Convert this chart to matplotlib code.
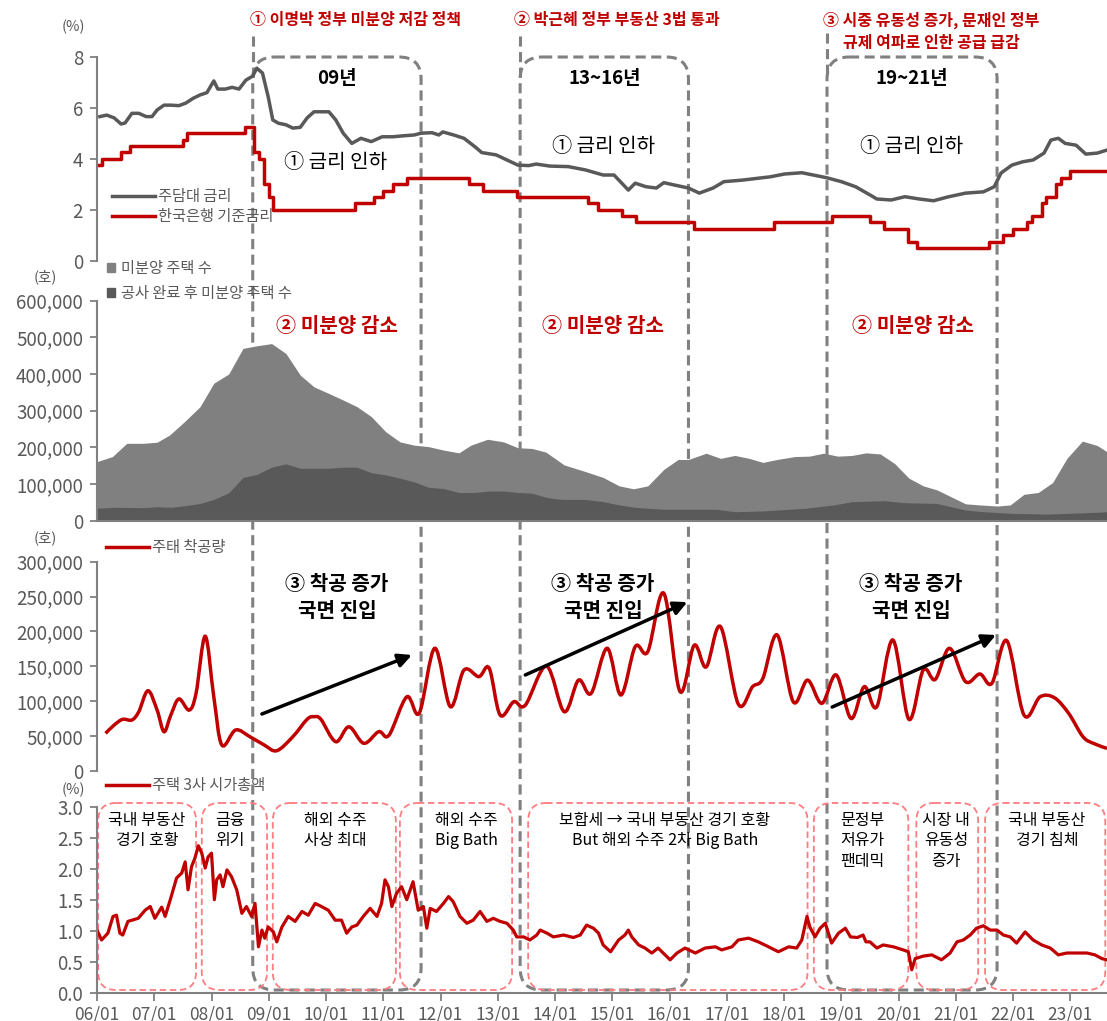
import numpy as np
import matplotlib
matplotlib.use("Agg")
import matplotlib.pyplot as plt
from matplotlib.patches import FancyBboxPatch, PathPatch, Patch
from matplotlib.path import Path
from matplotlib.lines import Line2D

plt.rcParams['font.family'] = ['Noto Sans CJK KR', 'DejaVu Sans']
plt.rcParams['axes.unicode_minus'] = False

RED = '#C00000'
DARK = '#595959'
MID = '#808080'
PINK = '#FF7C80'

# ---------------- data (x = decimal year) ----------------
# 주담대 금리 (%)
mort_t = [2006.05, 2006.17, 2006.30, 2006.42, 2006.49, 2006.61, 2006.73, 2006.86, 2006.96,
          2007.05, 2007.17, 2007.29, 2007.43, 2007.55, 2007.68, 2007.80, 2007.92,
          2008.04, 2008.11, 2008.24, 2008.36, 2008.48, 2008.60, 2008.72, 2008.79, 2008.89, 2008.99,
          2009.07, 2009.17, 2009.30, 2009.42, 2009.55, 2009.67, 2009.79, 2009.91,
          2010.05, 2010.17, 2010.30, 2010.45, 2010.61, 2010.79, 2010.98,
          2011.17, 2011.36, 2011.54, 2011.66, 2011.85, 2011.97,
          2012.04, 2012.23, 2012.41, 2012.60, 2012.72, 2012.97,
          2013.16, 2013.35, 2013.54, 2013.67, 2013.91, 2014.23, 2014.53, 2014.84,
          2015.03, 2015.28, 2015.40, 2015.59, 2015.77, 2015.90,
          2016.08, 2016.33, 2016.52, 2016.76, 2016.95, 2017.27, 2017.57, 2017.76,
          2018.01, 2018.31, 2018.51, 2018.75, 2019.00, 2019.25, 2019.50, 2019.62, 2019.87,
          2020.11, 2020.36, 2020.61, 2020.86, 2021.17, 2021.48, 2021.67, 2021.79, 2021.98,
          2022.17, 2022.35, 2022.54, 2022.66, 2022.79, 2022.91, 2023.10, 2023.27, 2023.47, 2023.64]
mort_v = [5.65, 5.71, 5.6, 5.36, 5.4, 5.78, 5.78, 5.65, 5.65,
          5.91, 6.1, 6.1, 6.08, 6.18, 6.37, 6.5, 6.59,
          7.05, 6.73, 6.73, 6.8, 6.73, 7.08, 7.24, 7.55, 7.36, 6.43,
          5.52, 5.39, 5.33, 5.2, 5.23, 5.6, 5.84, 5.84,
          5.84, 5.52, 5.0, 4.6, 4.8, 4.67, 4.86,
          4.86, 4.9, 4.93, 5.0, 5.02, 4.93,
          5.05, 4.93, 4.8, 4.47, 4.24, 4.15,
          3.95, 3.75, 3.73, 3.79, 3.71, 3.69, 3.56, 3.36,
          3.36, 2.77, 3.04, 2.9, 2.85, 3.06,
          2.97, 2.85, 2.65, 2.85, 3.1, 3.16, 3.24, 3.29,
          3.4, 3.45, 3.36, 3.25, 3.1, 2.9, 2.58, 2.42, 2.38,
          2.51, 2.42, 2.35, 2.5, 2.65, 2.7, 2.9, 3.44, 3.75,
          3.88, 3.95, 4.22, 4.73, 4.8, 4.6, 4.53, 4.18, 4.22, 4.34]

# 한국은행 기준금리 (%), change dates
base_t = [2006.0, 2006.08, 2006.42, 2006.58, 2007.5, 2007.58, 2008.58, 2008.75, 2008.83, 2008.92,
          2009.0, 2009.08, 2010.5, 2010.83, 2011.0, 2011.17, 2011.42, 2012.5, 2012.75, 2013.33,
          2014.58, 2014.75, 2015.17, 2015.42, 2016.42, 2017.83, 2018.83, 2019.5, 2019.75, 2020.17,
          2020.33, 2021.58, 2021.83, 2022.0, 2022.25, 2022.33, 2022.5, 2022.58, 2022.75, 2022.83,
          2023.0, 2023.64]
base_v = [3.75, 4.0, 4.25, 4.5, 4.75, 5.0, 5.25, 4.25, 4.0, 3.0,
          2.5, 2.0, 2.25, 2.5, 2.75, 3.0, 3.25, 3.0, 2.75, 2.5,
          2.25, 2.0, 1.75, 1.5, 1.25, 1.5, 1.75, 1.5, 1.25, 0.75,
          0.5, 0.75, 1.0, 1.25, 1.5, 1.75, 2.25, 2.5, 3.0, 3.25,
          3.5, 3.5]

# 미분양 주택 수 (호)
unsold_t = [2006.0, 2006.27, 2006.52, 2006.80, 2007.05, 2007.27, 2007.52, 2007.80, 2008.04, 2008.30,
            2008.55, 2008.79, 2009.05, 2009.30, 2009.55, 2009.79, 2010.05, 2010.30, 2010.54, 2010.79,
            2011.04, 2011.29, 2011.54, 2011.79, 2012.04, 2012.32, 2012.53, 2012.82, 2013.10, 2013.35,
            2013.60, 2013.84, 2014.16, 2014.53, 2014.84, 2015.12, 2015.37, 2015.62, 2015.90, 2016.15,
            2016.33, 2016.64, 2016.89, 2017.14, 2017.39, 2017.63, 2017.88, 2018.19, 2018.44, 2018.69,
            2018.94, 2019.19, 2019.43, 2019.68, 2019.93, 2020.18, 2020.43, 2020.67, 2020.92, 2021.17,
            2021.42, 2021.73, 2021.95, 2022.19, 2022.44, 2022.69, 2022.94, 2023.21, 2023.47, 2023.64]
unsold_v = [161000, 175000, 211000, 211000, 214000, 234000, 269000, 311000, 375000, 400000,
            470000, 477000, 483000, 456000, 397000, 365000, 347000, 329000, 311000, 284000,
            243000, 215000, 206000, 202000, 193000, 185000, 206000, 222000, 215000, 199000,
            197000, 187000, 152000, 134000, 118000, 95000, 87000, 95000, 140000, 167000,
            167000, 184000, 170000, 178000, 170000, 159000, 167000, 175000, 176000, 184000,
            176000, 178000, 185000, 182000, 156000, 116000, 95000, 84000, 65000, 46000,
            43000, 40000, 43000, 72000, 77000, 104000, 170000, 217000, 205000, 188000]

# 공사 완료 후 미분양 주택 수 (호)
done_t = [2006.0, 2006.30, 2006.80, 2007.05, 2007.29, 2007.55, 2007.80, 2008.04, 2008.30, 2008.55,
          2008.79, 2009.05, 2009.30, 2009.55, 2009.79, 2010.05, 2010.30, 2010.54, 2010.79, 2011.04,
          2011.29, 2011.54, 2011.79, 2012.04, 2012.32, 2012.60, 2012.85, 2013.10, 2013.35, 2013.60,
          2013.84, 2014.0, 2014.16, 2014.53, 2014.84, 2015.12, 2015.40, 2015.90, 2016.40, 2016.83,
          2017.14, 2017.63, 2018.38, 2018.87, 2019.19, 2019.75, 2020.11, 2020.67, 2020.92, 2021.17,
          2021.48, 2021.98, 2022.59, 2022.96, 2023.47, 2023.64]
done_v = [34000, 36500, 35500, 38000, 36500, 41000, 47000, 58000, 76000, 118000,
          126000, 146000, 155000, 143000, 143000, 143000, 146000, 146000, 131000, 125000,
          116000, 106000, 91000, 88000, 77000, 77000, 81000, 81000, 77000, 75000,
          64000, 60000, 58000, 58000, 52000, 43000, 36500, 31000, 31000, 31000,
          24500, 26500, 34000, 43000, 52000, 54500, 49000, 47000, 38000, 29000,
          24500, 20000, 18000, 20000, 23000, 24500]

# 주택 착공량 (호)
starts_t = [2006.15, 2006.30, 2006.45, 2006.61, 2006.73, 2006.89, 2007.05, 2007.17, 2007.29, 2007.43,
            2007.61, 2007.73, 2007.89, 2008.04, 2008.18, 2008.42, 2008.67, 2008.92, 2009.14, 2009.42,
            2009.67, 2009.79, 2009.91, 2010.17, 2010.40, 2010.66, 2010.92, 2011.10, 2011.41, 2011.63,
            2011.90, 2012.17, 2012.41, 2012.67, 2012.85, 2013.04, 2013.28, 2013.48, 2013.85, 2014.16,
            2014.41, 2014.63, 2014.91, 2015.15, 2015.40, 2015.62, 2015.90, 2016.18, 2016.43, 2016.64,
            2016.89, 2017.20, 2017.45, 2017.63, 2017.88, 2018.16, 2018.41, 2018.66, 2018.91, 2019.17,
            2019.40, 2019.62, 2019.90, 2020.18, 2020.43, 2020.64, 2020.89, 2021.17, 2021.42, 2021.63,
            2021.89, 2022.19, 2022.47, 2022.72, 2022.97, 2023.22, 2023.41, 2023.64]
starts_v = [53600, 65600, 73800, 72800, 84700, 114800, 87000, 56000, 80000, 103000,
            87000, 111000, 193000, 106000, 36900, 58400, 48800, 36900, 28700, 48800,
            73800, 77500, 73800, 41600, 63000, 39300, 56000, 51000, 106000, 83000,
            175700, 92000, 144500, 135000, 147000, 80000, 99000, 94000, 150000, 84700,
            130000, 111000, 175700, 108700, 178000, 171000, 254600, 114000, 180000, 149000,
            206700, 95700, 120600, 132600, 194800, 99000, 130000, 96700, 137400, 75000,
            120600, 92000, 187600, 73800, 144500, 131000, 175700, 127800, 138800, 125500,
            186600, 80000, 106000, 104800, 82400, 48800, 39000, 32000]

# 주택 3사 시가총액 (%)
mkt_t = [2006.00, 2006.08, 2006.19, 2006.28, 2006.34, 2006.40, 2006.45, 2006.54, 2006.72, 2006.84,
         2006.93, 2007.01, 2007.13, 2007.19, 2007.28, 2007.39, 2007.48, 2007.54, 2007.59, 2007.65,
         2007.71, 2007.77, 2007.83, 2007.89, 2007.94, 2008.00, 2008.05, 2008.09, 2008.15, 2008.20,
         2008.27, 2008.35, 2008.44, 2008.53, 2008.61, 2008.70, 2008.76, 2008.82, 2008.88, 2008.93,
         2008.99, 2009.08, 2009.14, 2009.23, 2009.34, 2009.46, 2009.58, 2009.69, 2009.81, 2009.92,
         2010.04, 2010.16, 2010.27, 2010.36, 2010.45, 2010.54, 2010.65, 2010.77, 2010.89, 2010.97,
         2011.03, 2011.09, 2011.15, 2011.23, 2011.32, 2011.41, 2011.52, 2011.61, 2011.70, 2011.76,
         2011.82, 2011.93, 2012.05, 2012.14, 2012.22, 2012.34, 2012.46, 2012.57, 2012.69, 2012.81,
         2012.92, 2013.04, 2013.16, 2013.27, 2013.33, 2013.45, 2013.56, 2013.68, 2013.74, 2013.86,
         2013.97, 2014.15, 2014.32, 2014.44, 2014.55, 2014.67, 2014.76, 2014.84, 2014.97, 2015.11,
         2015.22, 2015.28, 2015.34, 2015.46, 2015.57, 2015.69, 2015.80, 2015.92, 2016.01, 2016.13,
         2016.27, 2016.45, 2016.62, 2016.80, 2016.91, 2017.09, 2017.20, 2017.38, 2017.55, 2017.73,
         2017.90, 2018.08, 2018.22, 2018.31, 2018.40, 2018.45, 2018.54, 2018.63, 2018.72, 2018.83,
         2018.95, 2019.07, 2019.16, 2019.28, 2019.38, 2019.43, 2019.50, 2019.62, 2019.73, 2019.91,
         2020.08, 2020.17, 2020.23, 2020.29, 2020.43, 2020.58, 2020.75, 2020.90, 2021.02, 2021.13,
         2021.25, 2021.36, 2021.48, 2021.60, 2021.72, 2021.83, 2021.95, 2022.06, 2022.21, 2022.35,
         2022.50, 2022.65, 2022.79, 2022.94, 2023.11, 2023.29, 2023.43, 2023.55, 2023.64]
mkt_v = [1.01, 0.85, 0.96, 1.23, 1.25, 0.96, 0.93, 1.15, 1.20, 1.33,
         1.39, 1.20, 1.38, 1.23, 1.50, 1.85, 1.93, 2.11, 1.66, 2.03,
         2.17, 2.37, 2.25, 2.01, 2.19, 2.25, 1.50, 1.82, 1.90, 1.71,
         1.98, 1.87, 1.66, 1.28, 1.39, 1.23, 1.44, 0.74, 1.01, 0.88,
         1.06, 0.98, 0.82, 1.06, 1.23, 1.15, 1.31, 1.25, 1.44, 1.39,
         1.33, 1.17, 1.17, 0.96, 1.06, 1.09, 1.23, 1.36, 1.23, 1.44,
         1.82, 1.71, 1.39, 1.60, 1.71, 1.50, 1.79, 1.33, 1.39, 1.04,
         1.36, 1.31, 1.44, 1.55, 1.47, 1.23, 1.12, 1.17, 1.31, 1.15,
         1.20, 1.15, 1.12, 1.01, 0.90, 0.90, 0.85, 0.93, 1.01, 0.96,
         0.90, 0.93, 0.89, 0.93, 1.09, 1.04, 0.96, 0.77, 0.66, 0.85,
         0.93, 1.01, 0.90, 0.77, 0.72, 0.64, 0.72, 0.61, 0.53, 0.64,
         0.72, 0.64, 0.72, 0.74, 0.69, 0.74, 0.85, 0.88, 0.82, 0.74,
         0.66, 0.74, 0.72, 0.85, 1.23, 1.06, 0.90, 1.04, 1.12, 0.80,
         0.96, 1.04, 0.90, 0.89, 0.93, 0.82, 0.82, 0.72, 0.77, 0.74,
         0.69, 0.66, 0.37, 0.55, 0.59, 0.61, 0.53, 0.64, 0.82, 0.85,
         0.93, 1.04, 1.08, 1.01, 1.01, 0.93, 0.90, 0.80, 0.98, 0.85,
         0.77, 0.72, 0.61, 0.64, 0.64, 0.64, 0.61, 0.55, 0.53]

year_ticks = list(range(2006, 2024))
year_labels = ['06/01', '07/01', '08/01', '09/01', '10/01', '11/01', '12/01', '13/01', '14/01',
               '15/01', '16/01', '17/01', '18/01', '19/01', '20/01', '21/01', '22/01', '23/01']

# policy periods (gray boxes) and market phases (pink boxes)
periods = [(2008.72, 2011.66), (2013.39, 2016.33), (2018.75, 2021.72)]
period_labels = ['09년', '13~16년', '19~21년']
phases = [(2006.02, 2007.73), (2007.83, 2008.97), (2009.07, 2011.22), (2011.29, 2013.25),
          (2013.53, 2018.41), (2018.52, 2020.17), (2020.31, 2021.39), (2021.51, 2023.61)]
phase_labels = ['국내 부동산\n경기 호황', '금융\n위기', '해외 수주\n사상 최대', '해외 수주\nBig Bath',
                '보합세 → 국내 부동산 경기 호황\nBut 해외 수주 2차 Big Bath',
                '문정부\n저유가\n팬데믹', '시장 내\n유동성\n증가', '국내 부동산\n경기 침체']
phase_centers = [2006.87, 2008.32, 2010.17, 2012.45, 2015.92, 2019.37, 2020.83, 2022.59]

# ---------------- layout ----------------
W, H = 1107, 1021
X0, X1 = 2006.0, 2023.64
AX_LEFT = 97
PX_PER_YEAR = (W - AX_LEFT) / (X1 - X0)

fig = plt.figure(figsize=(W / 100, H / 100), dpi=100)


def fx(px):
    return px / W


def fy(py):
    return 1 - py / H


def add_panel(top, bottom):
    ax = fig.add_axes([fx(AX_LEFT), fy(bottom), 1 - fx(AX_LEFT), (bottom - top) / H])
    ax.set_facecolor('none')
    ax.set_zorder(2)
    ax.set_xlim(X0, X1)
    for s in ('top', 'right'):
        ax.spines[s].set_visible(False)
    for s in ('left', 'bottom'):
        ax.spines[s].set_color(MID)
        ax.spines[s].set_linewidth(1.5)
    ax.tick_params(colors=MID, labelcolor=DARK, labelsize=13.5, length=5, width=1.3, pad=5)
    ax.tick_params(axis='x', bottom=False, labelbottom=False)
    return ax


def smooth_path(x, y):
    # smoothed line like a spreadsheet "smooth line" chart
    pts = np.column_stack([x, y]).astype(float)
    n = len(pts)
    verts = [pts[0]]
    codes = [Path.MOVETO]
    for i in range(n - 1):
        p0 = pts[max(i - 1, 0)]
        p1 = pts[i]
        p2 = pts[i + 1]
        p3 = pts[min(i + 2, n - 1)]
        verts += [p1 + (p2 - p0) / 6, p2 - (p3 - p1) / 6, p2]
        codes += [Path.CURVE4] * 3
    return Path(verts, codes)


def legend_at(ax, handles, labels, px, py, **kw):
    opts = dict(loc='upper left', bbox_to_anchor=(fx(px), fy(py)),
                bbox_transform=fig.transFigure, frameon=False, fontsize=11,
                labelcolor=DARK, handletextpad=0.2, borderpad=0, borderaxespad=0)
    opts.update(kw)
    ax.legend(handles, labels, **opts)


# overlay: x in years, y in canvas pixels (top = 0)
ov = fig.add_axes([fx(AX_LEFT), 0, 1 - fx(AX_LEFT), 1])
ov.set_xlim(X0, X1)
ov.set_ylim(H, 0)
ov.axis('off')
ov.set_zorder(1)

# --- panel 1: rates
ax1 = add_panel(56.7, 260.7)
ax1.set_ylim(0, 8)
ax1.set_yticks([0, 2, 4, 6, 8])
ax1.spines['bottom'].set_visible(False)
ax1.plot(mort_t, mort_v, color=DARK, lw=2.5)
ax1.plot(base_t, base_v, color=RED, lw=2.5, drawstyle='steps-post')
legend_at(ax1, [Line2D([], [], color=DARK, lw=2.5), Line2D([], [], color=RED, lw=2.5)],
          ['주담대 금리', '한국은행 기준금리'], 112, 188,
          handlelength=2.8, labelspacing=0.2)

# --- panel 2: unsold
ax2 = add_panel(300.7, 520.7)
ax2.set_ylim(0, 600000)
ax2.set_yticks(range(0, 600001, 100000))
ax2.set_yticklabels([f'{v:,}' for v in range(0, 600001, 100000)])
ax2.fill_between(unsold_t, unsold_v, color=MID, lw=0)
ax2.fill_between(done_t, done_v, color=DARK, lw=0)
legend_at(ax2, [Patch(color=MID), Patch(color=DARK)], ['미분양 주택 수', '공사 완료 후 미분양 주택 수'],
          107, 260, handlelength=0.55, handleheight=0.55, handletextpad=0.35, labelspacing=0.5)

# --- panel 3: housing starts
ax3 = add_panel(561.7, 770.7)
ax3.set_ylim(0, 300000)
ax3.set_yticks(range(0, 300001, 50000))
ax3.set_yticklabels([f'{v:,}' for v in range(0, 300001, 50000)])
ax3.spines['bottom'].set_visible(False)
ax3.add_patch(PathPatch(smooth_path(starts_t, starts_v), fill=False, ec=RED, lw=2.5))
legend_at(ax3, [Line2D([], [], color=RED, lw=2.5)], ['주태 착공량'], 106, 539, handlelength=2.8)
arrows = [((2008.88, 81400), (2011.50, 166100)),
          ((2013.48, 137400), (2016.31, 242000)),
          ((2018.84, 91400), (2021.70, 194800))]
for start, end in arrows:
    ax3.annotate('', xy=end, xytext=start,
                 arrowprops=dict(arrowstyle='-|>', color='black', lw=2.5, mutation_scale=20,
                                 shrinkA=0, shrinkB=0))

# --- panel 4: market cap
ax4 = add_panel(806.7, 992.7)
ax4.set_ylim(0, 3)
ax4.set_yticks(np.arange(0, 3.01, 0.5))
ax4.set_yticklabels([f'{v:.1f}' for v in np.arange(0, 3.01, 0.5)])
ax4.tick_params(axis='x', bottom=True, labelbottom=True, length=6, pad=3, labelsize=12.5)
ax4.set_xticks(year_ticks)
ax4.set_xticklabels(year_labels)
ax4.plot(mkt_t, mkt_v, color=RED, lw=2.3)
legend_at(ax4, [Line2D([], [], color=RED, lw=2.5)], ['주택 3사 시가총액'], 106, 777, handlelength=2.8)

# --- unit labels
for x, y, s in [(73, 27, '(%)'), (45, 277, '(호)'), (45, 538, '(호)'), (73, 790, '(%)')]:
    fig.text(fx(x), fy(y), s, ha='center', va='center', fontsize=10.5, color=DARK)

# --- gray period boxes
gray_ls = (0, (3.3, 1.8))
r = 22 / PX_PER_YEAR
for (a, b), lab, top in zip(periods, period_labels, [36, 36, 33]):
    ov.add_patch(FancyBboxPatch((a, 57), b - a, 990 - 57,
                                boxstyle=f'round,pad=0,rounding_size={r}',
                                mutation_aspect=PX_PER_YEAR, fill=False, ec=MID,
                                lw=2.2, ls=gray_ls))
    ov.plot([a, a], [top, 80], color=MID, lw=2.2, ls=gray_ls)
    ov.text((a + b) / 2, 78, lab, ha='center', va='center', fontsize=13.5,
            fontweight='bold', color='black')

# --- pink phase boxes
rp = 18 / PX_PER_YEAR
for (a, b), lab, c in zip(phases, phase_labels, phase_centers):
    ov.add_patch(FancyBboxPatch((a, 803), b - a, 990 - 803,
                                boxstyle=f'round,pad=0,rounding_size={rp}',
                                mutation_aspect=PX_PER_YEAR, fill=False, ec=PINK,
                                lw=1.3, ls=(0, (3.6, 2.0))))
    for k, line in enumerate(lab.split('\n')):
        ov.text(c, 820 + 20.5 * k, line, ha='center', va='center', fontsize=11.5, color='black')

# --- titles
for x, y, s in [(2010.52, 20, '① 이명박 정부 미분양 저감 정책'),
                (2015.08, 20, '② 박근혜 정부 부동산 3법 통과'),
                (2020.57, 20, '③ 시중 유동성 증가, 문재인 정부'),
                (2020.57, 43, '규제 여파로 인한 공급 급감')]:
    ov.text(x, y, s, ha='center', va='center', fontsize=11.5, fontweight='bold', color=RED)

# --- in-panel annotations
for x, y in [(2010.17, 163), (2014.84, 147), (2020.22, 147)]:
    ov.text(x, y, '① 금리 인하', ha='center', va='center', fontsize=14.5, color='black')
for x in [2010.19, 2014.84, 2020.25]:
    ov.text(x, 325, '② 미분양 감소', ha='center', va='center', fontsize=14.5,
            fontweight='bold', color=RED)
for x in [2010.19, 2014.84, 2020.22]:
    ov.text(x, 583, '③ 착공 증가', ha='center', va='center', fontsize=14.5,
            fontweight='bold', color='black')
    ov.text(x, 610, '국면 진입', ha='center', va='center', fontsize=14.5,
            fontweight='bold', color='black')

fig.savefig('out.png', dpi=100)
